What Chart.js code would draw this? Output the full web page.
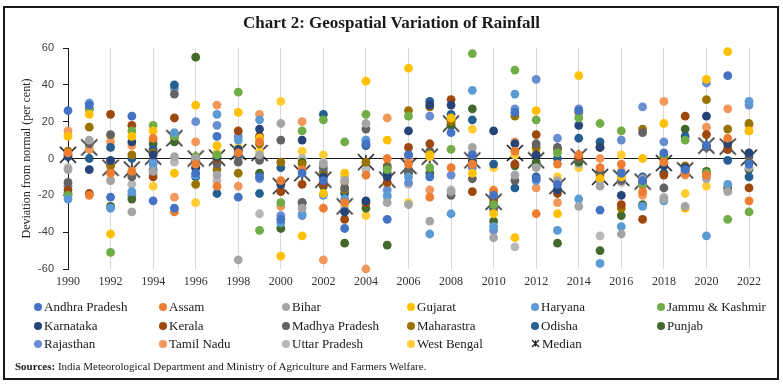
<!DOCTYPE html>
<html>
<head>
<meta charset="utf-8">
<script src="https://cdn.jsdelivr.net/npm/chart.js@4"></script>
<style>
  html, body { margin: 0; padding: 0; background: #fff; }
  #wrap { position: relative; width: 783px; height: 385px; overflow: hidden; background: #fff; }
  #frame { position: absolute; left: 3px; top: 6px; width: 772px; height: 370px; border: 2px solid #1a1a1a; pointer-events: none; }
  #title { position: absolute; left: 0; top: 13px; width: 783px; text-align: center; font: bold 17px "Liberation Serif", serif; color: #1a1a1a; }
  canvas { position: absolute; left: 0; top: 0; }
  #legend { position: absolute; left: 0; top: 0; width: 783px; height: 385px; pointer-events: none; }
  .li { position: absolute; font: 13px "Liberation Serif", serif; color: #1a1a1a; white-space: nowrap; line-height: 16px; }
  .dot { display: inline-block; width: 8px; height: 8px; border-radius: 50%; margin-right: 2px; vertical-align: 0px; }
  #src { position: absolute; left: 15px; top: 360px; font: 11px "Liberation Serif", serif; color: #1a1a1a; white-space: nowrap; }
</style>
</head>
<body>
<div id="wrap">
  <canvas id="c" width="783" height="385"></canvas>
  <div id="title">Chart 2: Geospatial Variation of Rainfall</div>
  <div id="legend"></div>
  <div id="src"><b>Sources:</b> India Meteorological Department and Ministry of Agriculture and Farmers Welfare.</div>
  <div id="frame"></div>
</div>
<script>
// ---- Data (deviation from normal rainfall, per cent), years 1990-2022 ----
const years = [1990,1991,1992,1993,1994,1995,1996,1997,1998,1999,2000,2001,2002,2003,2004,2005,2006,2007,2008,2009,2010,2011,2012,2013,2014,2015,2016,2017,2018,2019,2020,2021,2022];
const xTickLabels = [1990,1992,1994,1996,1998,2000,2002,2004,2006,2008,2010,2012,2014,2016,2018,2020,2022];
const yTicks = [-60,-40,-20,0,20,40,60];

const andhraPradesh = [26,29,-21,23,-23,-27,-8,12,-21,-10,-33,-8,-12,-38,8,-33,2,-10,14,2,-20,25,-11,-14,26,-28,-8,-12,3,-6,7,45,-3];
const assam         = [3,-20,-8,-7,11,-29,-3,-15,3,9,-12,-6,-27,-24,-9,0,-3,-21,-5,-3,-18,4,-30,-3,2,-5,-3,-18,-2,-8,-9,11,-23];
const bihar         = [-6,10,-12,-29,-7,1,0,-9,-55,2,19,-27,-3,-12,19,-24,-25,-34,-18,6,-43,-9,-5,-12,-26,-15,-41,-11,-22,-26,-11,-18,-5];
const gujarat       = [12,24,-41,12,15,-8,29,7,25,11,-53,-42,-19,-8,42,10,49,2,22,-8,-30,-43,26,-30,45,-11,-10,0,19,-27,43,58,15];
const haryana       = [-22,30,-27,-18,-3,14,-9,24,10,21,-35,-30,-20,-22,10,-20,-10,-41,-30,37,-37,35,-12,-39,-22,-57,-37,-26,-23,-7,-42,-14,31];
const jammuKashmir  = [-20,27,-51,15,18,12,1,2,36,-39,-24,15,21,9,24,-6,23,-5,5,57,-25,48,21,3,22,19,15,-14,2,10,-8,-33,-29];
const karnataka     = [1,-6,-1,9,2,12,-5,1,5,16,-14,10,-10,-29,-23,-10,15,29,29,-2,15,8,2,-17,18,6,-20,-13,-4,-5,23,8,3];
const kerala        = [-17,-19,24,18,-10,22,-5,0,15,12,-18,-14,-14,-33,-24,-13,6,8,32,-18,-22,-3,13,-19,1,6,-25,-33,-9,23,13,5,-16];
const madhyaPradesh = [-13,8,13,-10,-6,35,-1,-3,-2,-1,10,-24,-5,-16,16,-5,-6,4,-20,-11,-27,-12,8,6,0,-7,-12,14,-16,-6,6,5,1];
const maharastra    = [4,17,-4,2,3,13,-14,-6,-8,8,-2,-3,-8,-17,-2,-4,26,28,20,-1,-24,23,6,5,25,-9,-27,16,1,-4,32,16,19];
const odisha        = [2,0,6,0,5,40,-10,-19,2,-19,-5,-24,24,-19,7,-8,2,31,24,21,-3,-16,-10,0,11,9,-9,-10,-8,12,7,-1,-10];
const punjab        = [-19,27,-26,-22,8,9,55,0,4,-8,-38,-2,-15,-46,-27,-47,-8,-8,18,27,-34,-4,-2,-46,-2,-50,-31,-25,0,16,-7,-16,-6];
const rajasthan     = [-15,30,-3,-20,-2,38,20,18,12,-11,-31,-31,-7,-28,10,-17,-13,23,-9,-5,-39,27,43,11,27,-12,10,28,9,-7,41,9,29];
const tamilNadu     = [15,5,9,7,10,-21,9,29,-15,24,-26,20,-55,-13,-60,22,0,-17,19,-4,-17,9,-16,-24,-1,0,-7,-20,31,-9,17,27,18];
const uttarPradesh  = [-5,8,-12,-14,-8,-2,0,-12,0,-30,-16,0,-2,-10,-6,-21,-14,3,-17,3,-28,-48,-4,-16,-3,-42,-13,-15,-21,-8,-10,-17,-3];
const westBengal    = [13,6,12,-7,-15,10,-24,3,6,4,31,4,2,-26,-31,-14,-24,1,21,16,-5,2,4,-10,-5,-10,2,-12,-2,-19,-15,6,15];
const median        = [2,6,-5,-6,1,11,0,0.5,3.5,3,-15,-8,-11.5,-26,-2,-11.5,-4,1,19,-1,-23.5,3,-1,-15,1,-10,-10.5,-12.5,-2.5,-6.5,7,6.5,0.5];

const seriesNames = ["Andhra Pradesh","Assam","Bihar","Gujarat","Haryana","Jammu & Kashmir","Karnataka","Kerala","Madhya Pradesh","Maharastra","Odisha","Punjab","Rajasthan","Tamil Nadu","Uttar Pradesh","West Bengal"];
const seriesValues = [andhraPradesh,assam,bihar,gujarat,haryana,jammuKashmir,karnataka,kerala,madhyaPradesh,maharastra,odisha,punjab,rajasthan,tamilNadu,uttarPradesh,westBengal];
const seriesColors = ["#4472C4","#ED7D31","#A5A5A5","#FFC000","#5B9BD5","#70AD47","#264478","#9E480E","#636363","#997300","#255E91","#43682B","#698ED0","#F1975A","#B7B7B7","#FFCD33"];

// median marker: asterisk (X + vertical line)
function starMarker(size) {
  const c = document.createElement('canvas');
  c.width = size; c.height = size;
  const g = c.getContext('2d');
  g.strokeStyle = '#111'; g.lineWidth = 1.5;
  const m = 1, e = size - 1, h = size / 2;
  g.beginPath();
  g.moveTo(m, m); g.lineTo(e, e);
  g.moveTo(e, m); g.lineTo(m, e);
  g.moveTo(h, m + 1); g.lineTo(h, e - 1);
  g.stroke();
  return c;
}
const medianMarker = starMarker(18);

const datasets = seriesValues.map((vals, i) => ({
  label: seriesNames[i],
  data: vals.map((v, j) => ({ x: years[j], y: v })),
  backgroundColor: seriesColors[i],
  borderColor: seriesColors[i],
  borderWidth: 0,
  pointRadius: 4.4,
  pointHoverRadius: 4.4,
  showLine: false,
  clip: false
}));
datasets.push({
  label: "Median",
  data: median.map((v, j) => ({ x: years[j], y: v })),
  pointStyle: medianMarker,
  backgroundColor: '#111',
  borderColor: '#111',
  pointRadius: 9,
  showLine: false,
  clip: false
});

const chart = new Chart(document.getElementById('c'), {
  type: 'scatter',
  data: { datasets },
  options: {
    responsive: false,
    animation: false,
    events: [],
    layout: { padding: { left: 8, right: 34, top: 48, bottom: 94 } },
    plugins: { legend: { display: false }, title: { display: false }, tooltip: { enabled: false } },
    scales: {
      x: {
        type: 'linear',
        min: 1990, max: 2022,
        afterBuildTicks: s => { s.ticks = xTickLabels.map(v => ({ value: v })); },
        afterFit: s => { s.height = 22; },
        border: { display: false },
        grid: {
          color: ctx => (ctx.tick && ctx.tick.value === 1990) ? 'rgba(0,0,0,0)' : '#D9D9D9',
          lineWidth: 1,
          drawTicks: false
        },
        ticks: {
          padding: 6,
          color: '#333',
          font: { family: '"Liberation Serif", serif', size: 12 },
          maxRotation: 0,
          autoSkip: false,
          callback: v => String(v)
        }
      },
      y: {
        min: -60, max: 60,
        afterBuildTicks: s => { s.ticks = yTicks.map(v => ({ value: v })); },
        afterFit: s => { s.width = 60; },
        border: { display: true, color: '#1a1a1a', width: 1 },
        grid: {
          color: ctx => (ctx.tick && ctx.tick.value === 0) ? '#1a1a1a' : 'rgba(0,0,0,0)',
          tickColor: '#1a1a1a',
          tickLength: 5,
          lineWidth: 1
        },
        ticks: {
          padding: 9,
          color: '#404040',
          font: { family: '"Liberation Sans", sans-serif', size: 11 }
        },
        title: {
          display: true,
          text: 'Deviation from normal (per cent)',
          color: '#262626',
          font: { family: '"Liberation Serif", serif', size: 12 },
          padding: { top: 12, bottom: 0 }
        }
      }
    }
  }
});

// HTML legend built from the chart's datasets (6 columns x 3 rows)
const colX = [34, 159, 282, 407, 531, 657];
const rowY = [299, 318, 336];
const legendEl = document.getElementById('legend');
chart.data.datasets.forEach((ds, i) => {
  const col = i % 6, row = Math.floor(i / 6);
  const item = document.createElement('div');
  item.className = 'li';
  item.style.left = colX[col] + 'px';
  item.style.top = rowY[row] + 'px';
  if (ds.label === 'Median') {
    const svg = '<svg width="9" height="9" style="margin-right:2px;vertical-align:0px" viewBox="0 0 9 9"><path d="M1 1L8 8M8 1L1 8M4.5 1.5L4.5 7.5" stroke="#1a1a1a" stroke-width="1.2" fill="none"/></svg>';
    item.innerHTML = svg + ds.label;
  } else {
    item.innerHTML = '<span class="dot" style="background:' + ds.backgroundColor + '"></span>' + ds.label;
  }
  legendEl.appendChild(item);
});
</script>
</body>
</html>
